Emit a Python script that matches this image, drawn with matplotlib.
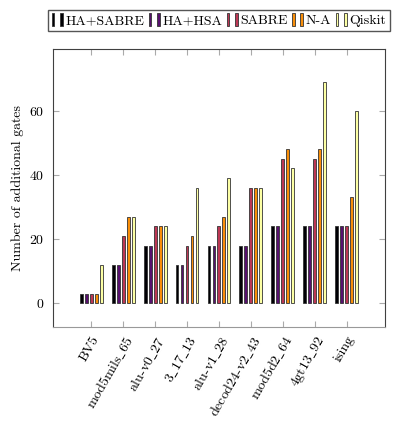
import numpy as np
import matplotlib
matplotlib.use("Agg")
import matplotlib.pyplot as plt
from matplotlib import rcParams
from matplotlib.patches import Rectangle
from matplotlib.legend_handler import HandlerTuple

rcParams.update(
    {
        "font.family": ["cmr10", "DejaVu Serif"],
        "mathtext.fontset": "cm",
        "axes.unicode_minus": False,
        "axes.formatter.use_mathtext": True,
        "font.size": 10,
    }
)

circuits = ["BV5", "mod5mils_65", "alu-v0_27", "3_17_13", "alu-v1_28",
            "decod24-v2_43", "mod5d2_64", "4gt13_92", "ising"]
methods = ["HA+SABRE", "HA+HSA", "SABRE", "N-A", "Qiskit"]

ha_sabre = [3, 12, 18, 12, 18, 18, 24, 24, 24]
ha_hsa = [3, 12, 18, 12, 18, 18, 24, 24, 24]
sabre = [3, 21, 24, 18, 24, 36, 45, 45, 24]
n_a = [3, 27, 24, 21, 27, 36, 48, 48, 33]
qiskit = [12, 27, 24, 36, 39, 36, 42, 69, 60]
series = [ha_sabre, ha_hsa, sabre, n_a, qiskit]

colors = plt.cm.inferno(np.linspace(0, 1, 5))


def tex_label(s):
    # cmr10 has no underscore glyph, so go through mathtext
    if "_" not in s:
        return s
    parts = [r"\text{" + p + "}" for p in s.split("_")]
    return "$" + r"\_".join(parts) + "$"


fig, ax = plt.subplots(figsize=(4.03, 4.29), dpi=100)
_pos = np.arange(len(circuits))
_step = 0.156
_bar_width = 0.09

handles = []
for i, vals in enumerate(series):
    ax.bar(_pos + (i - 2) * _step, vals, _bar_width, color=colors[i],
           edgecolor="#333333", linewidth=0.6, zorder=3)
    p = Rectangle((0, 0), 1, 1, facecolor=colors[i], edgecolor="#333333", linewidth=0.6)
    handles.append((p, p))

ax.set_xlim(-1.2, 8.2 + 1.0)
ax.set_ylim(-7.3, 79.2)
ax.set_yticks([0, 20, 40, 60])
ax.set_xticks(_pos)
ax.set_xticklabels([tex_label(c) for c in circuits], rotation=60, ha="right",
                   rotation_mode="anchor")
ax.set_ylabel("Number of additional gates")

ax.tick_params(direction="in", length=4, color="#aaaaaa", top=True, right=True, pad=6)
ax.tick_params(axis="x", pad=5)
for s in ["left", "right", "top"]:
    ax.spines[s].set_color("#404040")
ax.spines["bottom"].set_color("#999999")

ax.legend(
    handles,
    methods,
    handler_map={tuple: HandlerTuple(ndivide=None, pad=0.4)},
    ncol=5,
    loc="lower center",
    bbox_to_anchor=(0.5, 1.065),
    fancybox=False,
    edgecolor="#555555",
    framealpha=1,
    handlelength=0.8,
    handleheight=1.0,
    handletextpad=0.2,
    columnspacing=0.3,
    borderpad=0.25,
    borderaxespad=0,
)

fig.subplots_adjust(left=0.1315, right=0.955, top=0.886, bottom=0.238)
fig.savefig("out.png", dpi=100)
